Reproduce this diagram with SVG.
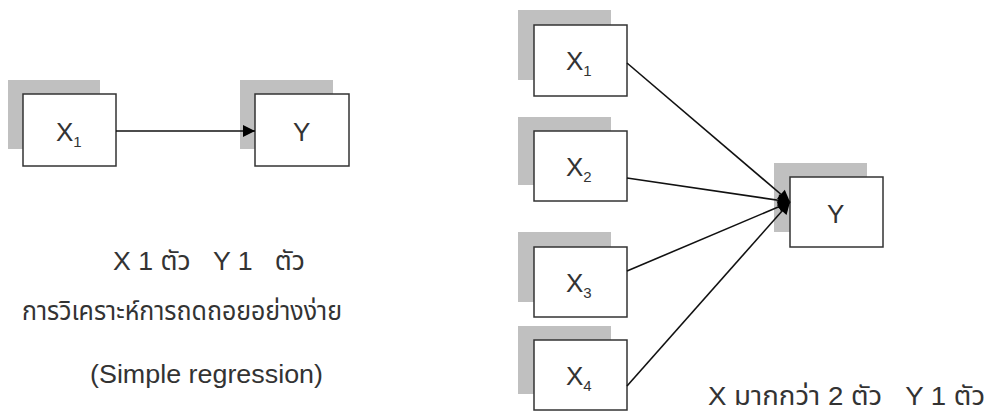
<svg xmlns="http://www.w3.org/2000/svg" width="990" height="413" viewBox="0 0 990 413">
<defs>
<style>
.sh{fill:#c0c0c0;}
.bx{fill:#fff;stroke:#333;stroke-width:1.5;}
.t{font-family:"Liberation Sans","Noto Sans Thai","Tahoma","DejaVu Sans",sans-serif;fill:#333;font-size:26px;}
.lb{font-family:"Liberation Sans",Arial,sans-serif;fill:#333;font-size:26px;}
.sub{font-size:15px;}
.ln{stroke:#111;stroke-width:1.6;fill:none;marker-end:url(#ah);}
</style>
<marker id="ah" viewBox="0 0 10 10" refX="10" refY="5" markerWidth="15" markerHeight="12" markerUnits="userSpaceOnUse" orient="auto">
<path d="M0,0 L10,5 L0,10 z" fill="#000"/>
</marker>
</defs>
<rect width="990" height="413" fill="#fff"/>
<g id="left-x1">
<rect class="sh" x="8" y="80" width="92" height="69"/>
<rect class="bx" x="23" y="94" width="93" height="72"/>
<text class="lb" x="56" y="141">X<tspan class="sub" dy="6">1</tspan></text>
</g>
<g id="left-y">
<rect class="sh" x="240" y="80" width="93" height="69"/>
<rect class="bx" x="255" y="94" width="94" height="72"/>
<text class="lb" x="293" y="141">Y</text>
</g>
<g id="right-x1">
<rect class="sh" x="518" y="10" width="93" height="70"/>
<rect class="bx" x="534" y="25" width="93" height="71"/>
<text class="lb" x="566" y="70">X<tspan class="sub" dy="6">1</tspan></text>
</g>
<g id="right-x2">
<rect class="sh" x="518" y="117" width="93" height="68"/>
<rect class="bx" x="534" y="131" width="93" height="70"/>
<text class="lb" x="566" y="176">X<tspan class="sub" dy="6">2</tspan></text>
</g>
<g id="right-x3">
<rect class="sh" x="518" y="232" width="93" height="70"/>
<rect class="bx" x="534" y="247" width="93" height="70"/>
<text class="lb" x="566" y="292">X<tspan class="sub" dy="6">3</tspan></text>
</g>
<g id="right-x4">
<rect class="sh" x="518" y="326" width="93" height="68"/>
<rect class="bx" x="534" y="340" width="93" height="70"/>
<text class="lb" x="566" y="385">X<tspan class="sub" dy="6">4</tspan></text>
</g>
<g id="right-y">
<rect class="sh" x="774" y="163" width="93" height="69"/>
<rect class="bx" x="790" y="177" width="93" height="70"/>
<text class="lb" x="827" y="223">Y</text>
</g>
<g id="connectors">
<line class="ln" x1="116" y1="131" x2="255" y2="131"/>
<line class="ln" x1="627" y1="63" x2="790" y2="202"/>
<line class="ln" x1="627" y1="178" x2="790" y2="202"/>
<line class="ln" x1="627" y1="271" x2="790" y2="202"/>
<line class="ln" x1="627" y1="386" x2="790" y2="202"/>
</g>
<g id="captions">
<text class="t" x="113" y="270" textLength="192" lengthAdjust="spacingAndGlyphs" xml:space="preserve">X 1 ตัว   Y 1   ตัว</text>
<text class="t" x="22" y="320" textLength="320" lengthAdjust="spacingAndGlyphs">การวิเคราะห์การถดถอยอย่างง่าย</text>
<text class="t" x="90" y="383" textLength="233" lengthAdjust="spacingAndGlyphs">(Simple regression)</text>
<text class="t" x="708" y="405" textLength="277" lengthAdjust="spacingAndGlyphs" xml:space="preserve">X มากกว่า 2 ตัว   Y 1 ตัว</text>
</g>
</svg>
